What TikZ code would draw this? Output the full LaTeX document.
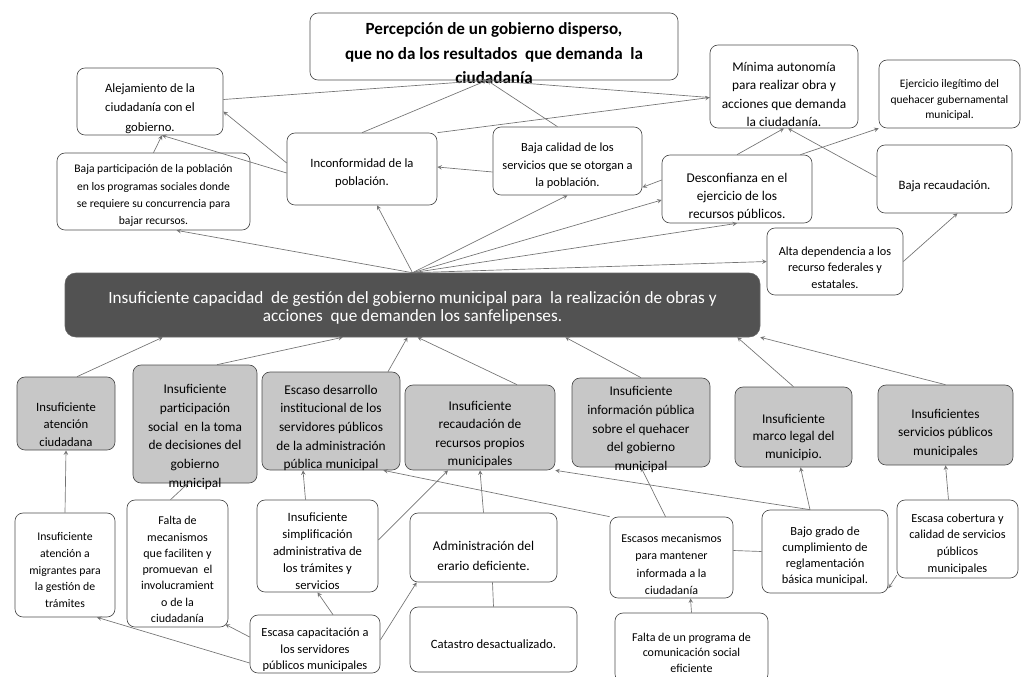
\documentclass[tikz,border=0pt]{standalone}
\usepackage{fontspec}
\setmainfont{Carlito}
\usetikzlibrary{arrows,calc,fit}

\tikzset{
  kasten/.style={draw=black!70, line width=.5pt, rounded corners=6pt, inner sep=0pt},
  ursache/.style={kasten, fill=black!22},
  tx/.style={align=center, inner sep=0pt, font=\fontsize{9.3}{13}\selectfont},
  senken/.style={yshift={-#1*0.75pt}},
  pfeil/.style={draw=black!55, line width=.5pt, ->, >=stealth},
  linie/.style={draw=black!55, line width=.5pt}
}

\begin{document}
\begin{tikzpicture}[x=0.75pt,y=-0.75pt]
\useasboundingbox (0,0) rectangle (1022,676);
%Wirkungen oben (Koordinaten in Pixeln des Bildes)
%Text als Label in der Mitte, senken = Verschiebung nach unten in Pixeln
\node[kasten, fit={(310,13) (678,80)}, label={[tx, font=\fontsize{12.8}{18.4}\selectfont\bfseries, senken=7]center:{Percepción de un gobierno disperso,\\ que no da los resultados\ \ que demanda\ \ la\\ ciudadanía}}] (titel) {};
\node[kasten, fit={(77,68) (223,135)}, label={[tx, font=\fontsize{9.5}{14.6}\selectfont, senken=7]center:{Alejamiento de la\\ ciudadanía con el\\ gobierno.}}] (alej) {};
\node[kasten, fit={(57,153) (250,230)}, label={[tx, font=\fontsize{8.7}{12.8}\selectfont, senken=4]center:{Baja participación de la población\\ en los programas sociales donde\\ se requiere su concurrencia para\\ bajar recursos.}}] (bajapart) {};
\node[kasten, fit={(287,133) (437,205)}, label={[tx, font=\fontsize{9.5}{13.5}\selectfont, senken=4]center:{Inconformidad de la\\ población.}}] (inconf) {};
\node[kasten, fit={(493,127) (642,195)}, label={[tx, senken=5]center:{Baja calidad de los\\ servicios que se otorgan a\\ la población.}}] (calidad) {};
\node[kasten, fit={(710,45) (858,128)}, label={[tx, font=\fontsize{10}{13.9}\selectfont, senken=8]center:{Mínima autonomía\\ para realizar obra y\\ acciones que demanda\\ la ciudadanía.}}] (autonomia) {};
\node[kasten, fit={(879,60) (1020,128)}, label={[tx, font=\fontsize{8.6}{11.3}\selectfont, senken=6]center:{Ejercicio ilegítimo del\\ quehacer gubernamental\\ municipal.}}] (ejercicio) {};
\node[kasten, fit={(662,155) (812,223)}, label={[tx, font=\fontsize{10}{13.2}\selectfont, senken=8]center:{Desconfianza en el\\ ejercicio de los\\ recursos públicos.}}] (desconf) {};
\node[kasten, fit={(877,145) (1012,213)}, label={[tx, font=\fontsize{9.6}{13}\selectfont, senken=7]center:{Baja recaudación.}}] (recaud) {};
\node[kasten, fit={(767,228) (903,295)}, label={[tx, font=\fontsize{9.2}{12.4}\selectfont, senken=6]center:{Alta dependencia a los\\ recurso federales y\\ estatales.}}] (dependencia) {};
%Kernproblem
\node[fit={(65,273) (760,337)}, fill=black!68, draw=black!60, rounded corners=8pt, inner sep=0pt,
  label={[tx, text=white, font=\fontsize{12.9}{13.8}\selectfont, senken=3]center:{Insuficiente capacidad\ \ de gestión del gobierno municipal para\ \ la realización\ de obras y\\ acciones\ \ que demanden los sanfelipenses.}}] (haupt) {};
%Ursachen
\node[ursache, fit={(17,377) (115,450)}, label={[tx, font=\fontsize{9.5}{13}\selectfont, senken=11]center:{Insuficiente\\ atención\\ ciudadana}}] (atencion) {};
\node[ursache, fit={(133,365) (257,483)}, label={[tx, font=\fontsize{10}{14}\selectfont, senken=13]center:{Insuficiente\\ participación\\ social\ \ en la toma\\ de decisiones del\\ gobierno\\ municipal}}] (partic) {};
\node[ursache, fit={(262,372) (400,470)}, label={[tx, font=\fontsize{10}{14}\selectfont, senken=7]center:{Escaso desarrollo\\ institucional de los\\ servidores públicos\\ de la administración\\ pública municipal}}] (desarrollo) {};
\node[ursache, fit={(405,385) (555,470)}, label={[tx, font=\fontsize{10}{13.6}\selectfont, senken=7]center:{Insuficiente\\ recaudación de\\ recursos propios\\ municipales}}] (recurs) {};
\node[ursache, fit={(572,378) (710,467)}, label={[tx, font=\fontsize{10}{14}\selectfont, senken=7]center:{Insuficiente\\ información pública\\ sobre el quehacer\\ del gobierno\\ municipal}}] (info) {};
\node[ursache, fit={(735,387) (852,467)}, label={[tx, font=\fontsize{10}{13.1}\selectfont, senken=10]center:{Insuficiente\\ marco legal del\\ municipio.}}] (marco) {};
\node[ursache, fit={(878,385) (1013,465)}, label={[tx, font=\fontsize{10}{13.9}\selectfont, senken=8]center:{Insuficientes\\ servicios públicos\\ municipales}}] (servicios) {};
%Ursachen zweiter Ebene
\node[kasten, fit={(15,513) (115,617)}, label={[tx, font=\fontsize{8.8}{12.4}\selectfont, senken=5]center:{Insuficiente\\ atención a\\ migrantes para\\ la gestión de\\ trámites}}] (migrantes) {};
\node[kasten, fit={(127,500) (228,627)}, label={[tx, font=\fontsize{9}{12.2}\selectfont, senken=6]center:{Falta de\\ mecanismos\\ que faciliten y\\ promuevan\ \ el\\ involucramient\\ o de la\\ ciudadanía}}] (mecan) {};
\node[kasten, fit={(257,500) (378,592)}, label={[tx, font=\fontsize{9.5}{12.75}\selectfont, senken=5]center:{Insuficiente\\ simplificación\\ administrativa de\\ los trámites y\\ servicios}}] (simpl) {};
\node[kasten, fit={(250,615) (380,673)}, label={[tx, font=\fontsize{9.3}{12.4}\selectfont, senken=6]center:{Escasa capacitación a\\ los servidores\\ públicos municipales}}] (capac) {};
\node[kasten, fit={(410,513) (557,582)}, label={[tx, font=\fontsize{10}{15}\selectfont, senken=8]center:{Administración del\\ erario deficiente.}}] (erario) {};
\node[kasten, fit={(410,607) (577,672)}, label={[tx, font=\fontsize{9.5}{13}\selectfont, senken=5]center:{Catastro desactualizado.}}] (catastro) {};
\node[kasten, fit={(610,517) (733,598)}, label={[tx, font=\fontsize{9}{13}\selectfont, senken=7]center:{Escasos mecanismos\\ para mantener\\ informada a la\\ ciudadanía}}] (escasos) {};
\node[kasten, fit={(615,613) (768,682)}, label={[tx, font=\fontsize{9}{11.6}\selectfont, senken=5]center:{Falta de un programa de\\ comunicación social\\ eficiente}}] (programa) {};
\node[kasten, fit={(762,510) (888,593)}, label={[tx, font=\fontsize{9.3}{12}\selectfont, senken=5]center:{Bajo grado de\\ cumplimiento de\\ reglamentación\\ básica municipal.}}] (bajogrado) {};
\node[kasten, fit={(897,500) (1018,578)}, label={[tx, font=\fontsize{9.2}{12.5}\selectfont, senken=5]center:{Escasa cobertura y\\ calidad de servicios\\ públicos\\ municipales}}] (cobertura) {};

%Pfeile vom Kernproblem nach oben
\foreach \ziel/\anker in {calidad/south, desconf/south, dependencia/west}
  \draw[pfeil] (haupt.north) -- (\ziel.\anker);
\draw[pfeil] (haupt.north) -- ($(bajapart.south)+(23,0)$);
\draw[pfeil] (haupt.north) -- ($(inconf.south)+(15,0)$);
\draw[pfeil] (haupt.north) -- ($(desconf.west)+(0,11)$);
%Pfeile zwischen den Wirkungen
\coordinate (titelfuss) at ($(titel.south)+(-7,0)$);
\coordinate (alejfuss) at ($(alej.south)+(12,0)$);
\coordinate (autolinks) at ($(autonomia.west)+(0,11)$);
\draw[pfeil] ($(alej.east)+(0,-2)$) -- (titelfuss);
\draw[pfeil] (inconf.north) -- (titelfuss);
\draw[pfeil] ($(calidad.north)+(-10,0)$) -- (titelfuss);
\draw[pfeil] (autolinks) -- (titelfuss);
\draw[pfeil] (bajapart.north) -- (alejfuss);
\draw[pfeil] ($(inconf.west)+(0,4)$) -- (alejfuss);
\draw[pfeil] ($(inconf.west)+(0,-6)$) -- ($(alej.east)+(0,10)$);
\draw[pfeil] ($(calidad.west)+(0,11)$) -- ($(inconf.east)+(0,-2)$);
\draw[pfeil] ($(desconf.west)+(0,-9)$) -- ($(calidad.south east)+(0,-8)$);
\draw[pfeil] (inconf.north east) -- (autolinks);
\draw[pfeil] (desconf.north) -- (autonomia.south);
\draw[pfeil] ($(desconf.north east)+(-12,0)$) -- (ejercicio.south west);
\draw[pfeil] ($(recaud.west)+(0,-2)$) -- ($(autonomia.south)+(4,0)$);
\draw[pfeil] (dependencia.east) -- ($(recaud.south)+(13,0)$);
%Pfeile von den Ursachen zum Kernproblem
\draw[pfeil] ($(atencion.north)+(11,0)$) -- ($(haupt.south west)+(98,0)$);
\draw[pfeil] ($(partic.north)+(22,0)$) -- ($(haupt.south west)+(278,0)$);
\draw[pfeil] ($(desarrollo.north)+(57,0)$) -- ($(haupt.south)+(-5,0)$);
\draw[pfeil] ($(recurs.north)+(37,0)$) -- ($(haupt.south)+(5,0)$);
\draw[pfeil] (info.north) -- ($(haupt.south east)+(-195,0)$);
\draw[pfeil] (marco.north) -- ($(haupt.south east)+(-23,0)$);
\draw[pfeil] (servicios.north) -- (haupt.south east);
%untere Ebene
\draw[pfeil] (migrantes.north) -- (atencion.south);
\draw[pfeil] ($(mecan.north)+(-7,0)$) -- ($(partic.south)+(-7,0)$);
\draw[pfeil] ($(simpl.north)+(-12,0)$) -- ($(desarrollo.south)+(-28,0)$);
\draw[pfeil] ($(simpl.east)+(0,-6)$) -- ($(recurs.south)+(-32,0)$);
\draw[pfeil] ($(capac.north)+(18,0)$) -- (simpl.south);
\draw[pfeil] ($(capac.west)+(0,-7)$) -- ($(mecan.south east)+(-3,-3)$);
\draw[pfeil] ($(capac.west)+(0,19)$) -- ($(migrantes.south)+(32,0)$);
\draw[pfeil] ($(capac.east)+(0,-4)$) -- ($(erario.south west)+(7,0)$);
\draw[pfeil] (erario.north) -- (recurs.south);
\draw[linie] (catastro.north) -- ($(erario.south)+(9,0)$);
\draw[pfeil] ($(escasos.north)+(-6,0)$) -- (info.south);
\draw[pfeil] (escasos.north west) -- ($(desarrollo.south east)+(-17,0)$);
\draw[pfeil] ($(bajogrado.north)+(-15,0)$) -- (recurs.south east);
\draw[linie] ($(escasos.east)+(0,-7)$) -- (bajogrado.west);
\draw[pfeil] ($(bajogrado.north)+(-15,0)$) -- ($(marco.south)+(7,0)$);
\draw[pfeil] ($(cobertura.north)+(-9,0)$) -- (servicios.south);
\draw[pfeil] ($(cobertura.south west)+(0,-3)$) -- ($(bajogrado.south east)+(0,-5)$);
\draw[pfeil] (programa.north) -- ($(escasos.south)+(19,0)$);
\end{tikzpicture}
\end{document}
